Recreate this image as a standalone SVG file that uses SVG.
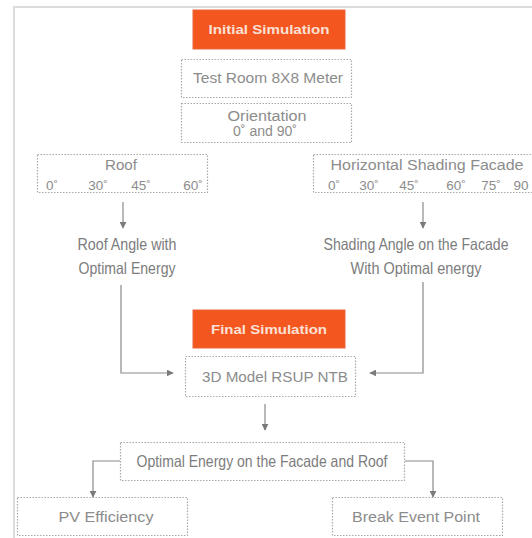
<svg xmlns="http://www.w3.org/2000/svg" width="532" height="538" viewBox="0 0 532 538">
<style>
.box{fill:#fff;stroke:#a8a8a8;stroke-width:1.2;stroke-dasharray:1.5 1.5}
.hot{fill:#f4561f;stroke:#e8673c;stroke-width:1}
.t{font-family:"Liberation Sans",Arial,sans-serif;font-size:14px;fill:#8c8c8c;text-anchor:middle}
.d{font-family:"Liberation Sans",Arial,sans-serif;font-size:13.5px;fill:#8c8c8c;text-anchor:middle}
.w{font-family:"Liberation Sans",Arial,sans-serif;font-size:13px;font-weight:bold;fill:#fbe1d6;text-anchor:middle}
.c{font-family:"Liberation Sans",Arial,sans-serif;font-size:16.5px;fill:#7c7c7c;text-anchor:middle}
.ln{fill:none;stroke:#8a8a8a;stroke-width:1.2}
</style>
<defs>
<marker id="ah" viewBox="0 0 10 10" refX="9" refY="5" markerWidth="7" markerHeight="7" orient="auto" markerUnits="userSpaceOnUse">
<path d="M0,0 L10,5 L0,10 z" fill="#7a7a7a"/>
</marker>
</defs>
<rect width="532" height="538" fill="#fff"/>
<path d="M14,540 V7 H540" fill="none" stroke="#dcdcdc" stroke-width="2"/>

<g id="initial">
<rect class="hot" x="193" y="10" width="152" height="39"/>
<text class="w" x="269" y="34" textLength="121" lengthAdjust="spacingAndGlyphs">Initial Simulation</text>
</g>
<g id="testroom">
<rect class="box" x="181.5" y="59.5" width="170" height="38"/>
<text class="t" x="268" y="83" textLength="150" lengthAdjust="spacingAndGlyphs">Test Room 8X8 Meter</text>
</g>
<g id="orientation">
<rect class="box" x="181.5" y="103.5" width="170" height="39"/>
<text class="t" x="267" y="121" textLength="79" lengthAdjust="spacingAndGlyphs">Orientation</text>
<text class="t" x="265" y="136" textLength="64" lengthAdjust="spacingAndGlyphs">0˚ and 90˚</text>
</g>
<g id="roof">
<rect class="box" x="37.5" y="154.5" width="170" height="38"/>
<text class="t" x="121" y="170" textLength="32" lengthAdjust="spacingAndGlyphs">Roof</text>
<text class="d" x="52" y="190">0˚</text>
<text class="d" x="98" y="190">30˚</text>
<text class="d" x="141" y="190">45˚</text>
<text class="d" x="193" y="190">60˚</text>
</g>
<g id="shading">
<rect class="box" x="313.5" y="154.5" width="230" height="38"/>
<text class="t" x="427" y="170" textLength="193" lengthAdjust="spacingAndGlyphs">Horizontal Shading Facade</text>
<text class="d" x="334" y="190">0˚</text>
<text class="d" x="369" y="190">30˚</text>
<text class="d" x="409" y="190">45˚</text>
<text class="d" x="456" y="190">60˚</text>
<text class="d" x="491" y="190">75˚</text>
<text class="d" x="521" y="190">90</text>
</g>
<g id="roofangle">
<text class="c" x="127" y="250" textLength="99" lengthAdjust="spacingAndGlyphs">Roof Angle with</text>
<text class="c" x="127" y="274" textLength="97" lengthAdjust="spacingAndGlyphs">Optimal Energy</text>
</g>
<g id="shadingangle">
<text class="c" x="416" y="250" textLength="185" lengthAdjust="spacingAndGlyphs">Shading Angle on the Facade</text>
<text class="c" x="416" y="274" textLength="131" lengthAdjust="spacingAndGlyphs">With Optimal energy</text>
</g>
<g id="final">
<rect class="hot" x="193" y="310" width="152" height="38"/>
<text class="w" x="269" y="334" textLength="116" lengthAdjust="spacingAndGlyphs">Final Simulation</text>
</g>
<g id="model">
<rect class="box" x="185.5" y="356.5" width="170" height="40"/>
<text class="t" x="275" y="382" textLength="146" lengthAdjust="spacingAndGlyphs">3D Model RSUP NTB</text>
</g>
<g id="optimal">
<rect class="box" x="120.5" y="442.5" width="284" height="38"/>
<text class="c" x="262" y="467" textLength="251" lengthAdjust="spacingAndGlyphs">Optimal Energy on the Facade and Roof</text>
</g>
<g id="pv">
<rect class="box" x="17.5" y="497.5" width="170" height="38"/>
<text class="t" x="106" y="522" textLength="95" lengthAdjust="spacingAndGlyphs">PV Efficiency</text>
</g>
<g id="bep">
<rect class="box" x="332.5" y="497.5" width="170" height="38"/>
<text class="t" x="416" y="522" textLength="128" lengthAdjust="spacingAndGlyphs">Break Event Point</text>
</g>

<g id="connectors">
<path class="ln" d="M123,202 V228" marker-end="url(#ah)"/>
<path class="ln" d="M423,202 V228" marker-end="url(#ah)"/>
<path class="ln" d="M121,285 V373 H173" marker-end="url(#ah)"/>
<path class="ln" d="M423,282 V373 H370" marker-end="url(#ah)"/>
<path class="ln" d="M265,404 V430" marker-end="url(#ah)"/>
<path class="ln" d="M120,461 H93 V497" marker-end="url(#ah)"/>
<path class="ln" d="M405,461 H433 V497" marker-end="url(#ah)"/>
</g>
</svg>
